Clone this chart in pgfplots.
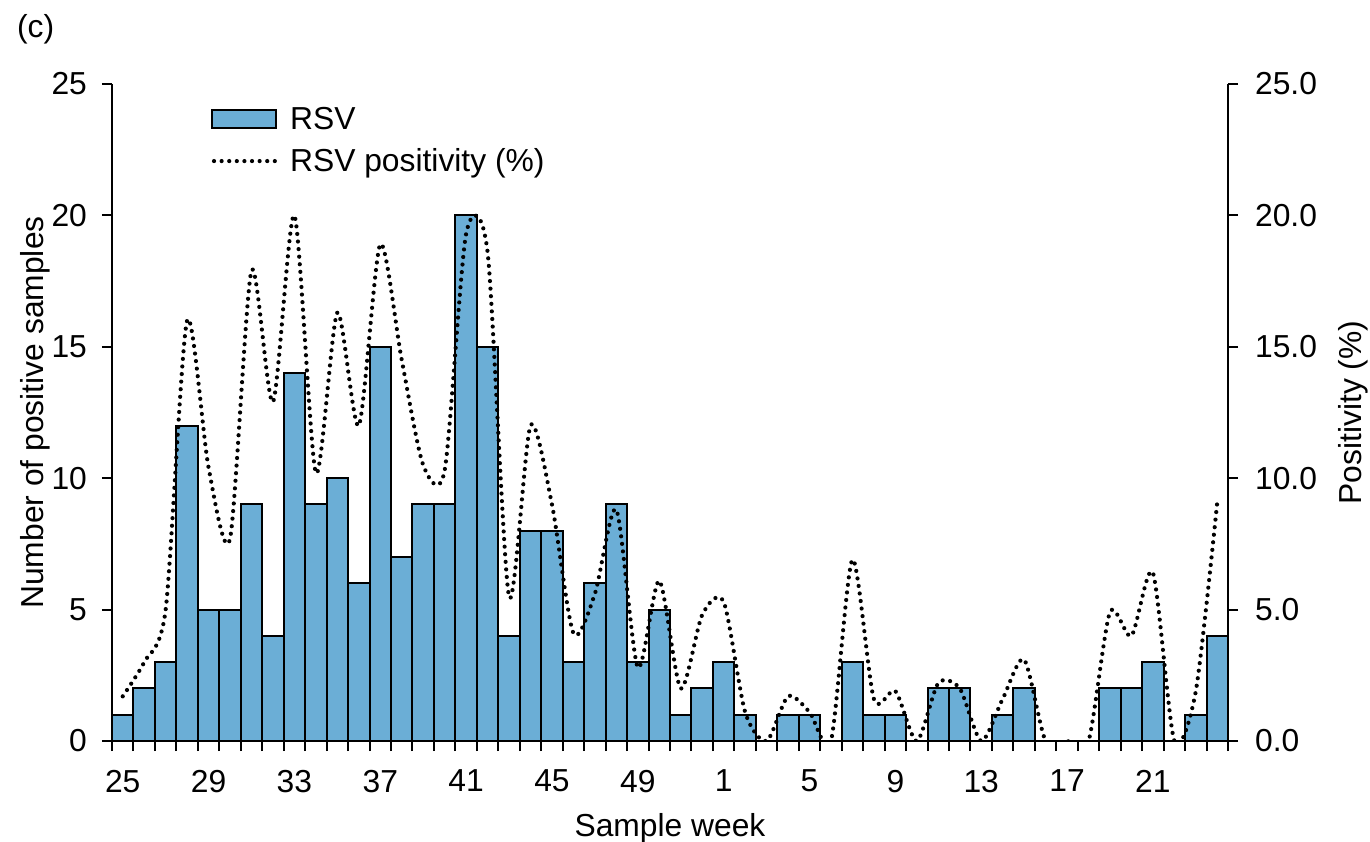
\documentclass[border=0pt]{standalone}
\usepackage{fontspec}
\setmainfont{Liberation Sans}
\usepackage{pgfplots}
\pgfplotsset{compat=1.18}
\definecolor{barblue}{RGB}{107,174,214}
\newcommand{\chartfont}{\fontsize{15.9}{19}\selectfont}
\pgfplotsset{
  every tick label/.append style={font=\chartfont},
  every axis label/.append style={font=\chartfont},
  /pgf/number format/assume math mode=true,
  barlegend/.style={legend image code/.code={\draw[##1] (0pt,-4.5pt) rectangle (32pt,4.5pt);}},
  linelegend/.style={legend image code/.code={\draw[##1] (1pt,0pt) -- (32pt,0pt);}},
}
\begin{document}
\begin{tikzpicture}
\useasboundingbox (0,0) rectangle (685pt,420.5pt);
\begin{axis}[
  at={(56pt,50pt)}, anchor=south west,
  scale only axis, width=558pt, height=328.5pt,
  xmin=-0.5, xmax=51.5, ymin=0, ymax=25,
  axis x line*=bottom, axis y line*=left,
  axis line style={line width=1pt},
  tick style={line width=1pt, black},
  tick align=outside,
  major tick length=5pt,
  ytick={0,5,...,25},
  yticklabel style={xshift=-4pt},
  xtick={-0.5,0.5,...,51.5},
  xticklabels={},
  extra x ticks={0,4,...,48},
  extra x tick labels={25,29,33,37,41,45,49,1,5,9,13,17,21},
  extra x tick style={major tick length=0pt, xticklabel style={yshift=-11pt}},
  xlabel={Sample week},
  xlabel style={at={(axis description cs:0.5,-0.1446)}, anchor=base},
  ylabel={Number of positive samples},
  ylabel style={at={(axis description cs:-0.0618,0.5)}, anchor=base},
  clip=false,
]
\addplot[ybar, bar width=1, bar shift=0pt, fill=barblue, draw=black, line width=1pt] coordinates {
(0,1) (1,2) (2,3) (3,12) (4,5) (5,5) (6,9) (7,4) (8,14) (9,9)
(10,10) (11,6) (12,15) (13,7) (14,9) (15,9) (16,20) (17,15) (18,4) (19,8)
(20,8) (21,3) (22,6) (23,9) (24,3) (25,5) (26,1) (27,2) (28,3) (29,1)
(30,0) (31,1) (32,1) (33,0) (34,3) (35,1) (36,1) (37,0) (38,2) (39,2)
(40,0) (41,1) (42,2) (43,0) (44,0) (45,0) (46,2) (47,2) (48,3) (49,0)
(50,1) (51,4)
};
\node[anchor=base west, font=\chartfont] at (axis description cs:-0.0914,1.0708) {(c)};
\end{axis}
\begin{axis}[
  at={(56pt,50pt)}, anchor=south west,
  scale only axis, width=558pt, height=328.5pt,
  xmin=-0.5, xmax=51.5, ymin=0, ymax=25,
  axis x line=none, axis y line*=right,
  axis line style={line width=1pt},
  tick style={line width=1pt, black},
  tick align=outside,
  major tick length=5pt,
  ytick={0,5,...,25},
  yticklabel style={/pgf/number format/.cd, fixed, fixed zerofill, precision=1, /tikz/.cd, xshift=5pt},
  ylabel={Positivity (\%)},
  ylabel style={at={(axis description cs:1.12,0.5)}, anchor=base},
  legend style={at={(axis description cs:0.083,0.978)}, anchor=north west,
    draw=none, fill=none, font=\chartfont, row sep=4pt,
    /tikz/every odd column/.append style={column sep=4pt}},
  legend cell align=left,
]
\addlegendimage{fill=barblue, draw=black, line width=1pt, barlegend}
\addlegendentry{RSV}
\addplot[black, line width=2.1pt, line cap=round, dash pattern=on 0pt off 3.8pt, smooth, tension=0.45, linelegend] coordinates {
(0,1.7) (1,3.0) (2,5.0) (3,16.0) (4,10.4) (5,7.7) (6,17.9) (7,12.9) (8,20.0) (9,10.2)
(10,16.3) (11,12.0) (12,18.9) (13,14.5) (14,10.5) (15,10.3) (16,19.3) (17,18.6) (18,5.5) (19,12.0)
(20,9.0) (21,4.1) (22,5.6) (23,8.8) (24,2.8) (25,6.1) (26,2.0) (27,4.8) (28,5.3) (29,1.1)
(30,0) (31,1.7) (32,1.1) (33,0) (34,6.9) (35,1.6) (36,1.9) (37,0) (38,2.2) (39,2.0)
(40,0) (41,1.6) (42,3.1) (43,0) (44,0) (45,0) (46,4.9) (47,4.0) (48,6.4) (49,0)
(50,1.9) (51,9.1)
};
\addlegendentry{RSV positivity (\%)}
\end{axis}
\end{tikzpicture}
\end{document}
